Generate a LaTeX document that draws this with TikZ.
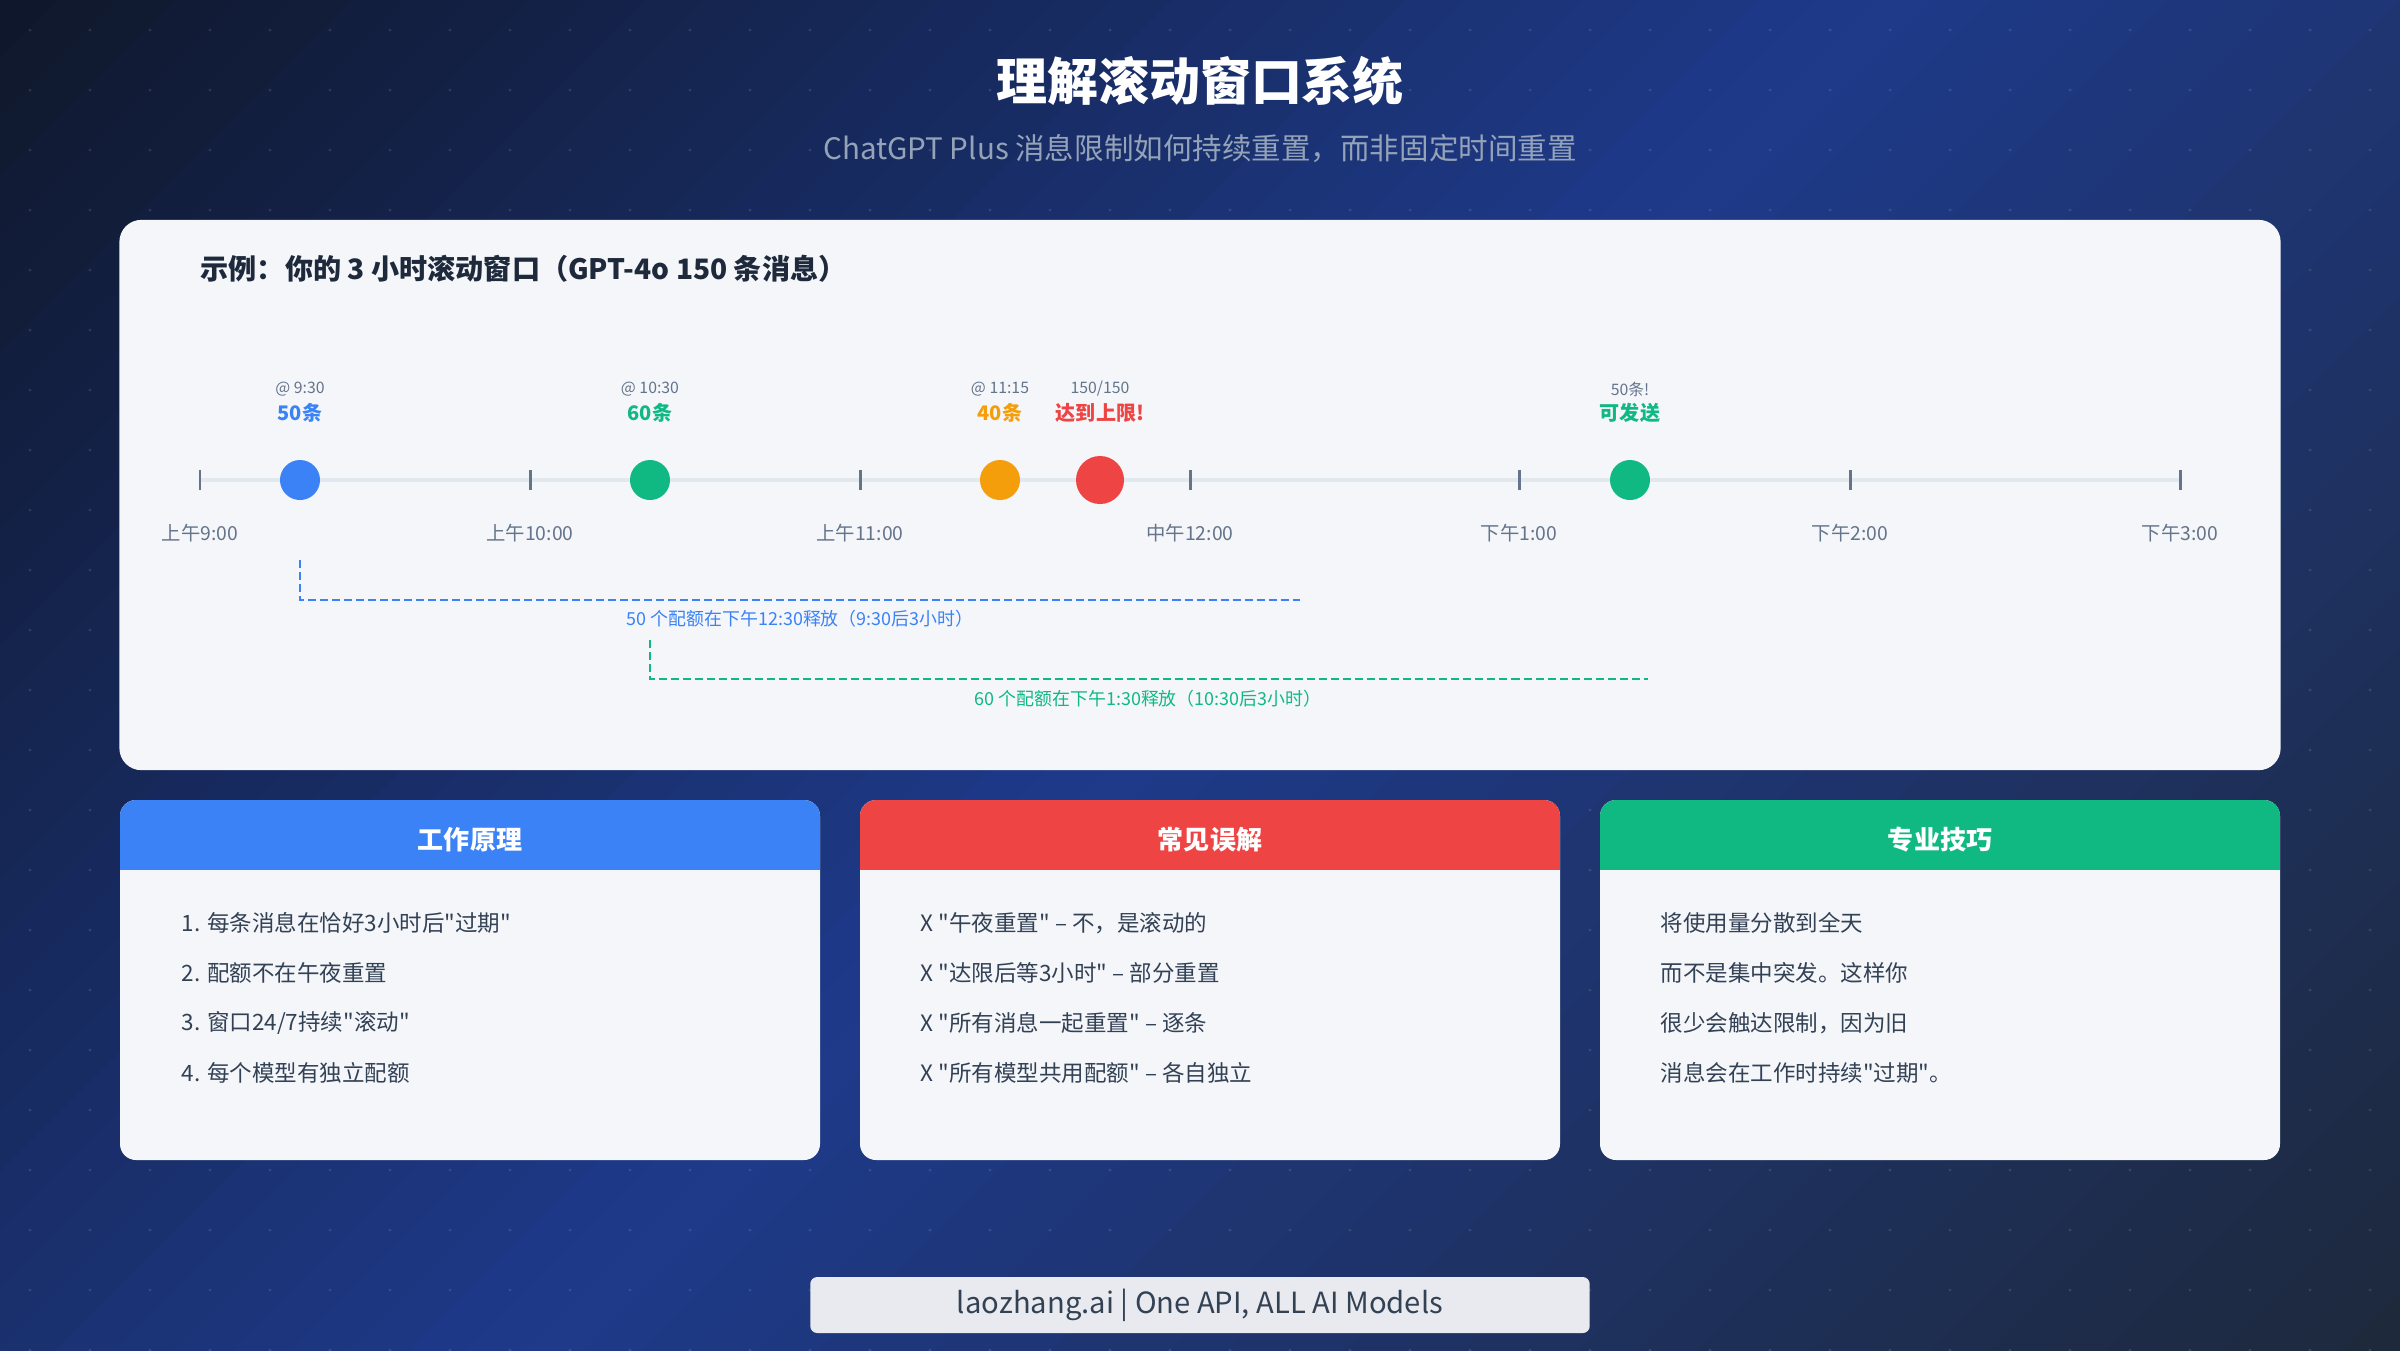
\documentclass[tikz,border=0pt]{standalone}
\usepackage{fontspec}
\setmainfont{Noto Sans CJK SC}[Ligatures=TeXOff]
\usetikzlibrary{positioning,calc}
\definecolor{bgdark}{HTML}{0F172A}
\definecolor{bgblue}{HTML}{1E3A8A}
\definecolor{bgslate}{HTML}{1E293B}
\definecolor{cardwhite}{HTML}{F4F6FA}
\definecolor{inkdark}{HTML}{1E293B}
\definecolor{inkbody}{HTML}{334155}
\definecolor{inkgray}{HTML}{64748B}
\definecolor{subgray}{HTML}{94A3B8}
\definecolor{railgray}{HTML}{E2E8F0}
\definecolor{okblue}{HTML}{3B82F6}
\definecolor{okgreen}{HTML}{10B981}
\definecolor{warnorange}{HTML}{F59E0B}
\definecolor{limitred}{HTML}{EF4444}
\definecolor{footgray}{HTML}{E8EAEF}

\begin{document}
\begin{tikzpicture}[x=0.01cm,y=-0.01cm,
  panel/.style={fill=cardwhite,rounded corners=0.16cm},
  rail/.style={draw=railgray,line width=1.3pt},
  tickmark/.style={draw=inkgray,line width=0.85pt},
  dot/.style={circle,minimum size=0.4cm,inner sep=0pt},
  timelbl/.style={text=inkgray,font=\fontsize{5.5}{7}\selectfont},
  smalllbl/.style={text=inkgray,font=\fontsize{4.5}{5}\selectfont},
  countlbl/.style={font=\bfseries\fontsize{5.7}{7}\selectfont},
  quota/.style={line width=0.8pt,dash pattern=on 0.08cm off 0.04cm},
  quotalbl/.style={font=\fontsize{5.1}{6}\selectfont},
  headtext/.style={text=white,font=\bfseries\fontsize{7.4}{9}\selectfont},
  item/.style={anchor=west,text=inkbody,font=\fontsize{6.4}{8}\selectfont,inner sep=0pt}
]
  \useasboundingbox (0,0) rectangle (2400,1350);
  % background, diagonal bands
  \begin{scope}
    \clip (0,0) rectangle (2400,1350);
    \foreach \b in {0,...,63}{
      \pgfmathsetmacro{\cA}{58.59375*\b}
      \pgfmathsetmacro{\cB}{58.59375*(\b+1)+3}
      \pgfmathsetmacro{\bandpos}{(\b+0.5)/64}
      \pgfmathsetmacro{\mix}{\bandpos<0.5 ? 200*\bandpos : 200*(\bandpos-0.5)}
      \ifdim\bandpos pt<0.5pt \colorlet{bandcol}{bgblue!\mix!bgdark}\else \colorlet{bandcol}{bgslate!\mix!bgblue}\fi
      \fill[bandcol] (\cA+1400,-1400) -- (\cA-1500,1500) -- (\cB-1500,1500) -- (\cB+1400,-1400) -- cycle;
    }
  \end{scope}
  \foreach \i in {0,...,39}{
    \foreach \j in {0,...,22}{
      \fill[white,opacity=0.12] (30+60*\i,30+60*\j) circle (0.015cm);
    }
  }

  \node[text=white,font=\bfseries\fontsize{14.5}{17}\selectfont] (title) at (1200,81) {理解滚动窗口系统};
  \node[text=subgray,font=\fontsize{8.4}{10}\selectfont] (subtitle) at (1200,149)
    {ChatGPT Plus 消息限制如何持续重置，而非固定时间重置};

  % timeline card
  \node[panel,rounded corners=0.22cm,minimum width=21.6cm,minimum height=5.5cm,inner sep=0pt] (timecard) at (1200,495) {};
  \node[anchor=west,inner sep=0pt,text=inkdark,font=\bfseries\fontsize{8}{10}\selectfont] (example) at (200,269)
    {示例：你的 3 小时滚动窗口（GPT-4o 150 条消息）};

  \foreach \x/\t [count=\i] in {200/上午9:00,530/上午10:00,860/上午11:00,1190/中午12:00,1519/下午1:00,1850/下午2:00,2180/下午3:00}{
    \coordinate (h\i) at (\x,480);
    \node[timelbl] (hl\i) at (\x,533) {\t};
  }
  \draw[rail] (h1) -- (h7);
  \foreach \i in {1,...,7}
    \draw[tickmark] ($(h\i)+(0,-10)$) -- ($(h\i)+(0,10)$);

  \node[dot,fill=okblue] (d930) at (300,480) {};
  \node[dot,fill=okgreen] (d1030) at (650,480) {};
  \node[dot,fill=warnorange] (d1115) at (1000,480) {};
  \node[dot,fill=limitred,minimum size=0.48cm] (dfull) at (1100,480) {};
  \node[dot,fill=okgreen] (d130) at (1630,480) {};

  \node[smalllbl] (s930) at (300,389) {@ 9:30};
  \node[countlbl,text=okblue] (c930) at (300,413) {50条};
  \node[smalllbl] (s1030) at (650,389) {@ 10:30};
  \node[countlbl,text=okgreen] (c1030) at (650,413) {60条};
  \node[smalllbl] (s1115) at (1000,389) {@ 11:15};
  \node[countlbl,text=warnorange] (c1115) at (1000,413) {40条};
  \node[smalllbl] (sfull) at (1100,389) {150/150};
  \node[countlbl,text=limitred] (cfull) at (1100,413) {达到上限!};
  \node[smalllbl] (s130) at (1630,389) {50条!};
  \node[countlbl,text=okgreen] (c130) at (1630,413) {可发送};

  % release brackets
  \coordinate (q1top) at (300,560);
  \coordinate (q1end) at (1300,600);
  \draw[quota,okblue] (q1top) |- (q1end);
  \node[quotalbl,text=okblue] (q1lbl) at (800,619) {50 个配额在下午12:30释放（9:30后3小时）};
  \coordinate (q2top) at (650,640);
  \coordinate (q2end) at (1648,679);
  \draw[quota,okgreen] (q2top) |- (q2end);
  \node[quotalbl,text=okgreen] (q2lbl) at (1148,699) {60 个配额在下午1:30释放（10:30后3小时）};

  % info cards
  \foreach \l/\r/\col/\ttl [count=\k] in {120/820/okblue/工作原理,860/1560/limitred/常见误解,1600/2280/okgreen/专业技巧}{
    \fill[panel] (\l,800) rectangle (\r,1160);
    \begin{scope}
      \clip[rounded corners=0.16cm] (\l,800) rectangle (\r,1160);
      \fill[fill=\col] (\l,800) rectangle (\r,870);
    \end{scope}
    \node[headtext] (head\k) at ({(\l+\r)/2},840) {\ttl};
  }

  \foreach \t [count=\j] in {1. 每条消息在恰好3小时后"过期",2. 配额不在午夜重置,3. 窗口24/7持续"滚动",4. 每个模型有独立配额}
    \node[item] (how\j) at (181,873+50*\j) {\t};
  \foreach \t [count=\j] in {X "午夜重置" – 不，是滚动的,X "达限后等3小时" – 部分重置,X "所有消息一起重置" – 逐条,X "所有模型共用配额" – 各自独立}
    \node[item] (myth\j) at (920,873+50*\j) {\t};
  \foreach \t [count=\j] in {将使用量分散到全天,而不是集中突发。这样你,很少会触达限制，因为旧,消息会在工作时持续"过期"。}
    \node[item] (tip\j) at (1660,873+50*\j) {\t};

  \node[fill=footgray,rounded corners=0.07cm,minimum width=7.79cm,minimum height=0.5cm,
        text=inkbody,font=\fontsize{8.3}{10}\selectfont] (footer) at (1200,1305)
    {laozhang.ai | One API, ALL AI Models};
\end{tikzpicture}
\end{document}
